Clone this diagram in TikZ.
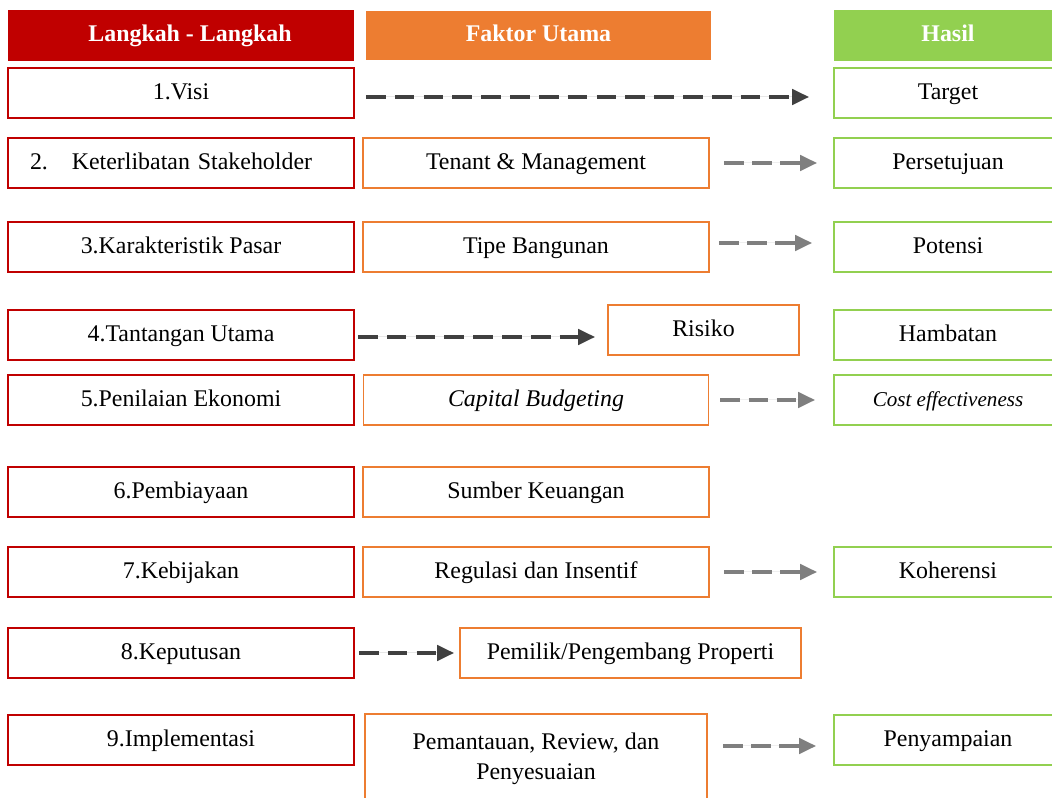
\documentclass[tikz,border=0pt]{standalone}
\usepackage{fontspec}
\setmainfont{Liberation Serif}
\usetikzlibrary{arrows.meta}

\definecolor{stepred}{HTML}{C00000}
\definecolor{factororange}{HTML}{ED7D31}
\definecolor{resultgreen}{HTML}{92D050}
\definecolor{arrowdark}{HTML}{404040}
\definecolor{arrowgray}{HTML}{7F7F7F}

\begin{document}
\begin{tikzpicture}[
    every node/.style={font=\fontsize{17}{20}\selectfont, inner sep=2pt},
    oneline/.style={text height=13pt, text depth=4pt},
    headbox/.style={oneline, minimum height=1.25cm, text=white,
      font=\fontsize{17}{20}\selectfont\bfseries},
    stepbox/.style={oneline, draw=stepred, line width=1.4pt, minimum width=8.65cm,
      minimum height=1.25cm},
    factorbox/.style={oneline, draw=factororange, line width=1.4pt, minimum height=1.25cm},
    resultbox/.style={oneline, draw=resultgreen, line width=1.4pt, minimum width=5.7cm,
      minimum height=1.25cm},
    darkarrow/.style={-{Triangle[length=12pt,width=11pt]}, draw=arrowdark,
      fill=arrowdark, line width=2.3pt, dash pattern=on 14pt off 6.5pt},
    grayarrow/.style={-{Triangle[length=12pt,width=11pt]}, draw=arrowgray,
      fill=arrowgray, line width=2.3pt, dash pattern=on 14pt off 6pt}
  ]
  \useasboundingbox (0,0) rectangle (26.3,19.95);

  % Column headers
  \node[headbox, fill=stepred, minimum width=8.65cm, minimum height=1.275cm]
    (hsteps) at (4.525, 19.0625) {\hspace{0.45cm}Langkah - Langkah};
  \node[headbox, fill=factororange, minimum width=8.625cm, minimum height=1.225cm]
    (hfactors) at (13.4625, 19.0625) {Faktor Utama};
  \node[headbox, fill=resultgreen, minimum width=5.7cm, minimum height=1.275cm]
    (hresults) at (23.7, 19.0625) {Hasil};

  % Steps
  \node[stepbox] (s1) at (4.525, 17.625) {1.Visi};
  \node[stepbox, text width=7.55cm, align=left] (s2) at (4.525, 15.875)
    {2.\quad Keterlibatan Stakeholder};
  \node[stepbox] (s3) at (4.525, 13.775) {3.Karakteristik Pasar};
  \node[stepbox] (s4) at (4.525, 11.575) {4.Tantangan Utama};
  \node[stepbox] (s5) at (4.525, 9.95) {5.Penilaian Ekonomi};
  \node[stepbox] (s6) at (4.525, 7.65) {6.Pembiayaan};
  \node[stepbox] (s7) at (4.525, 5.65) {7.Kebijakan};
  \node[stepbox] (s8) at (4.525, 3.625) {8.Keputusan};
  \node[stepbox] (s9) at (4.525, 1.45) {9.Implementasi};

  % Main factors
  \node[factorbox, minimum width=8.65cm] (f2) at (13.4, 15.875) {Tenant \& Management};
  \node[factorbox, minimum width=8.65cm] (f3) at (13.4, 13.775) {Tipe Bangunan};
  \node[factorbox, minimum width=4.775cm] (f4) at (17.5875, 11.7) {Risiko};
  \node[factorbox, minimum width=8.625cm] (f5) at (13.4, 9.95) {\textit{Capital Budgeting}};
  \node[factorbox, minimum width=8.65cm] (f6) at (13.4, 7.65) {Sumber Keuangan};
  \node[factorbox, minimum width=8.65cm] (f7) at (13.4, 5.65) {Regulasi dan Insentif};
  \node[factorbox, minimum width=8.525cm] (f8) at (15.7625, 3.625) {Pemilik/Pengembang Properti};
  \node[draw=factororange, line width=1.4pt, minimum width=8.55cm, minimum height=2.25cm,
        align=center, font=\fontsize{17}{21.5}\selectfont]
    (f9) at (13.4, 0.975) {Pemantauan, Review, dan\\Penyesuaian};

  % Results
  \node[resultbox] (r1) at (23.7, 17.625) {Target};
  \node[resultbox] (r2) at (23.7, 15.875) {Persetujuan};
  \node[resultbox] (r3) at (23.7, 13.775) {Potensi};
  \node[resultbox] (r4) at (23.7, 11.575) {Hambatan};
  \node[resultbox, font=\fontsize{15}{18}\selectfont] (r5) at (23.7, 9.95)
    {\textit{Cost effectiveness}};
  \node[resultbox] (r7) at (23.7, 5.65) {Koherensi};
  \node[resultbox] (r9) at (23.7, 1.45) {Penyampaian};

  % Dashed arrows between columns
  \draw[darkarrow, shorten <=0.275cm, shorten >=0.6cm] ([yshift=-0.1cm]s1.east) -- ([yshift=-0.1cm]r1.west);
  \draw[grayarrow, shorten <=0.35cm, shorten >=0.4cm] (f2.east) -- (r2.west);
  \draw[grayarrow, shorten <=0.225cm, shorten >=0.525cm] ([yshift=0.1cm]f3.east) -- ([yshift=0.1cm]r3.west);
  \draw[darkarrow, shorten <=0.075cm, shorten >=0.3cm] ([yshift=-0.05cm]s4.east) -- ([yshift=-0.05cm]s4.east -| f4.west);
  \draw[grayarrow, shorten <=0.275cm, shorten >=0.45cm] (f5.east) -- (r5.west);
  \draw[grayarrow, shorten <=0.35cm, shorten >=0.4cm] (f7.east) -- (r7.west);
  \draw[darkarrow, shorten <=0.1cm, shorten >=0.125cm] (s8.east) -- (f8.west);
  \draw[grayarrow, shorten <=0.375cm, shorten >=0.425cm] ([yshift=-0.15cm]f9.east |- r9.west) -- ([yshift=-0.15cm]r9.west);
\end{tikzpicture}
\end{document}
